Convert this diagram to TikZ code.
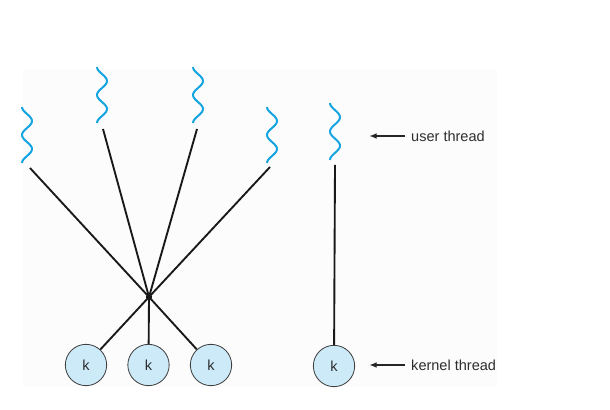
\documentclass[tikz,border=0pt]{standalone}
\usepackage{fontspec}
\setmainfont{Liberation Sans}
\usetikzlibrary{arrows.meta,positioning}
\definecolor{wireblue}{RGB}{22,165,225}
\definecolor{kfill}{RGB}{205,234,249}
\definecolor{txtgray}{RGB}{45,45,45}

\begin{document}
\begin{tikzpicture}[font=\fontsize{12.4}{14}\selectfont]
  %----- styles
  \tikzset{
    kern/.style ={circle,draw=black!75,line width=0.7pt,fill=kfill,minimum size=1.24cm,inner sep=0pt,text=txtgray},
    hub/.style  ={circle,fill=black,minimum size=0.18cm,inner sep=0pt},
    wave/.style ={wireblue,line width=1.7pt},
    link/.style ={black!90,line width=1.6pt},
    arrow/.style={-{Latex[length=2.2mm,width=1.7mm]},line width=1pt,black!85},
    lbl/.style  ={anchor=west,inner sep=0pt,text=txtgray}
  }
  \useasboundingbox (0,0) rectangle (18.3,12.3);
  \fill[black!1] (0.69,0.69) rectangle (14.91,10.2);

  %----- user threads (wavy lines)
  \foreach \cx/\yt/\yb in {0.81/9.09/7.41, 3.06/10.29/8.61, 5.94/10.29/8.61, 8.16/9.09/7.41, 10.05/9.21/7.5}
    \draw[wave] plot[domain=0:1,samples=60,smooth] ({\cx-0.15*cos(720*\x)},{\yb+(\yt-\yb)*\x});

  %----- nodes
  \coordinate (u1) at (0.9,7.26);
  \coordinate (u2) at (3.09,8.43);
  \coordinate (u3) at (5.91,8.43);
  \coordinate (u4) at (8.1,7.29);
  \coordinate (u5) at (10.05,7.35);
  \node[hub] (hub) at (4.47,3.39) {};
  % kernel threads
  \node[kern] (k1) at (2.58,1.35) {k};
  \node[kern] (k2) at (4.455,1.35) {k};
  \node[kern] (k3) at (6.33,1.35) {k};
  \node[kern] (k4) at (10.02,1.32) {k};

  %----- connections
  \foreach \u in {u1,u2,u3,u4}
    \draw[link] (\u) -- (hub.center);
  \draw[link] (hub.center) -- (k1);
  \draw[link] (hub.center) -- (k2);
  \draw[link] (hub.center) -- (k3);
  \draw[link] (u5) -- (k4);

  %----- labels
  \node[lbl] (ut) at (12.33,8.22) {user thread};
  \node[lbl] (kt) at (12.33,1.35) {kernel thread};
  \draw[arrow] ([xshift=-0.18cm]ut.west) -- ++(-1.07,0);
  \draw[arrow] ([xshift=-0.18cm]kt.west) -- ++(-1.07,0);
\end{tikzpicture}
\end{document}
